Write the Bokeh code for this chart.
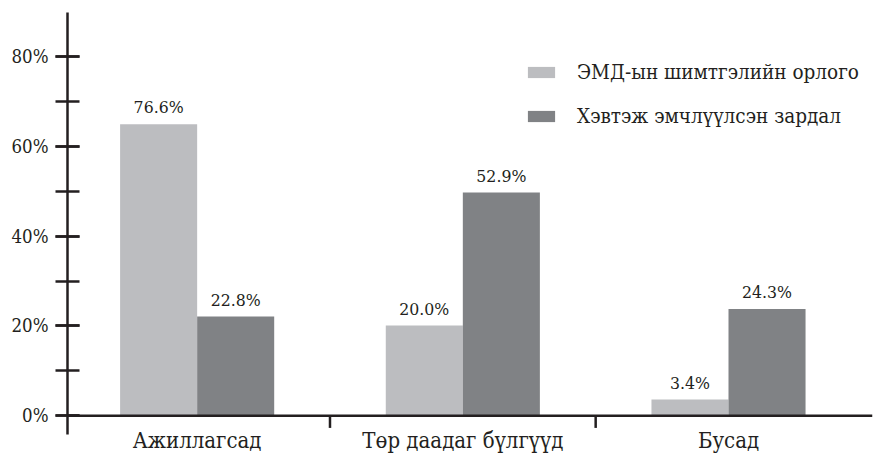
from bokeh.plotting import figure
from bokeh.models import (ColumnDataSource, Range1d, LinearAxis, SingleIntervalTicker,
                          PrintfTickFormatter, Span, Legend, LegendItem)
from bokeh.core.properties import value
from bokeh.embed import file_html
from bokeh.resources import INLINE

# ---- data ----
categories = ["Ажиллагсад", "Төр даадаг бүлгүүд", "Бусад"]
series_names = ["ЭМД-ын шимтгэлийн орлого", "Хэвтэж эмчлүүлсэн зардал"]
income_heights = [64.9, 20.1, 3.6]
expense_heights = [22.1, 49.7, 23.8]
income_labels = ["76.6%", "20.0%", "3.4%"]
expense_labels = ["22.8%", "52.9%", "24.3%"]
y_ticks_interval = 20

INK = "#231F20"
LIGHT = "#BCBDC0"
DARK = "#808285"
BAR_W = 0.29
COND = "DejaVu Serif Condensed"

xs = list(range(len(categories)))
src_inc = ColumnDataSource(dict(x=[x - BAR_W / 2 for x in xs], top=income_heights, lab=income_labels))
src_exp = ColumnDataSource(dict(x=[x + BAR_W / 2 for x in xs], top=expense_heights, lab=expense_labels))
src_cat = ColumnDataSource(dict(x=xs, y=[-5.6] * len(xs), name=categories))
div_x = [x + 0.5 for x in xs[:-1]]
src_div = ColumnDataSource(dict(x=div_x, y0=[0] * len(div_x), y1=[-2.7] * len(div_x)))

p = figure(width=892, height=454, output_backend="svg", toolbar_location=None,
           x_range=Range1d(-0.488, 2.542), y_range=Range1d(-8.62, 89.8),
           x_axis_location=None, y_axis_location=None,
           min_border_left=67, min_border_right=20, min_border_top=12, min_border_bottom=0)
p.outline_line_color = None
p.grid.visible = False
p.background_fill_color = "white"

yaxis = LinearAxis(ticker=SingleIntervalTicker(interval=y_ticks_interval, num_minor_ticks=2),
                   formatter=PrintfTickFormatter(format="%d%%"), bounds=(-4.2, 89.8))
yaxis.axis_line_color = INK
yaxis.axis_line_width = 2.5
yaxis.major_tick_line_color = INK
yaxis.major_tick_line_width = 2.5
yaxis.minor_tick_line_color = INK
yaxis.minor_tick_line_width = 2.5
yaxis.major_tick_in = 12
yaxis.major_tick_out = 12
yaxis.minor_tick_in = 12
yaxis.minor_tick_out = 12
yaxis.major_label_standoff = 7
yaxis.major_label_text_font = COND
yaxis.major_label_text_font_size = "18.5px"
yaxis.major_label_text_color = INK
p.add_layout(yaxis, "left")

r_inc = p.vbar(x="x", top="top", width=BAR_W, bottom=0, source=src_inc, fill_color=LIGHT, line_color=None)
r_exp = p.vbar(x="x", top="top", width=BAR_W, bottom=0, source=src_exp, fill_color=DARK, line_color=None)

for s in (src_inc, src_exp):
    p.text(x="x", y="top", text="lab", source=s, text_font=value(COND), text_font_size="17.5px",
           text_color=INK, text_align="center", text_baseline="alphabetic", y_offset=-17)

p.add_layout(Span(location=0, dimension="width", line_color=INK, line_width=2.5))
p.segment(x0="x", y0="y0", x1="x", y1="y1", source=src_div, line_color=INK, line_width=2.5)

p.text(x="x", y="y", text="name", source=src_cat, text_font=value(COND), text_font_size="22px",
       text_color=INK, text_align="center", text_baseline="alphabetic")

legend = Legend(items=[LegendItem(label=series_names[0], renderers=[r_inc]),
                       LegendItem(label=series_names[1], renderers=[r_exp])],
                location=(457, 326), orientation="vertical")
legend.border_line_color = None
legend.background_fill_alpha = 0
legend.padding = 0
legend.margin = 0
legend.spacing = 20
legend.glyph_width = 34
legend.glyph_height = 14
legend.label_standoff = 19
legend.label_text_font = COND
legend.label_text_font_size = "20.5px"
legend.label_text_color = INK
p.add_layout(legend, "center")

open("out.html", "w").write(file_html(p, INLINE))
